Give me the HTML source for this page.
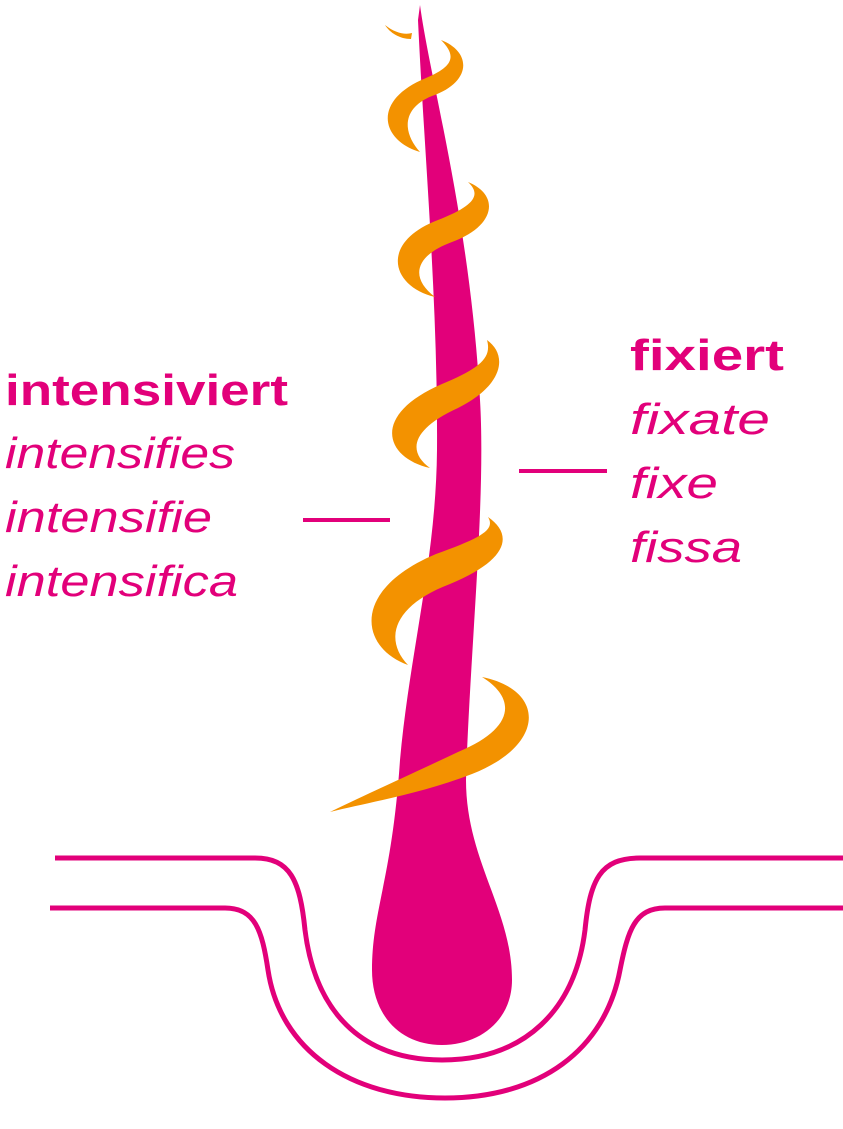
<!DOCTYPE html>
<html><head><meta charset="utf-8"><style>html,body{margin:0;padding:0;background:#fff}svg{display:block}</style></head>
<body>
<svg width="843" height="1129" viewBox="0 0 843 1129" xmlns="http://www.w3.org/2000/svg">
<g fill="none" stroke="#e2007a" stroke-width="5">
<path d="M55,858 L255,858 C290,858 300,880 305,930 C315,1010 360,1060 442,1060 C525,1060 575,1010 585,930 C590,880 600,858 640,858 L843,858"/>
<path d="M50,908 L225,908 C255,908 262,930 268,970 C280,1050 350,1098 445,1098 C540,1098 605,1050 620,970 C628,930 635,908 665,908 L843,908"/>
<path d="M303,520 L390,520 M519,471 L607,471" stroke-width="4"/>
</g>
<path fill="#e2007a" d="M420,5 C430,80 470,220 480,400 C486,500 470,650 466,780 C466,860 512,910 512,980 C512,1020 480,1045 442,1045 C400,1045 372,1015 372,970 C372,910 392,880 400,760 C410,650 436,560 437,450 C438,300 424,150 418,20 Z"/>
<g fill="#f39200">
<path d="M385,25 C395,33 405,35 412,33 L411,39 C400,39 390,33 385,25 Z"/>
<path d="M441,40 C472,52 472,82 432,96 C402,108 402,132 420,152 C380,140 372,100 426,78 C455,66 456,55 441,40 Z"/>
<path d="M468,182 C500,195 496,226 452,242 C414,256 410,278 435,297 C390,286 380,242 438,220 C474,206 482,195 468,182 Z"/>
<path d="M487,340 C508,355 504,385 458,408 C410,430 408,452 430,468 C385,458 370,415 442,384 C480,368 492,358 487,340 Z"/>
<path d="M488,517 C514,535 508,560 450,584 C392,606 384,640 408,665 C360,648 350,590 436,554 C480,538 496,530 488,517 Z"/>
<path d="M482,677 C546,690 546,745 472,774 C420,794 370,802 330,812 C380,788 420,770 458,752 C516,728 516,698 482,677 Z"/>
</g>
<g fill="#e2007a" font-family="Liberation Sans, sans-serif" font-size="44">
<text x="5" y="405" font-weight="bold" textLength="283" lengthAdjust="spacingAndGlyphs">intensiviert</text>
<text x="5" y="468" font-style="italic" textLength="230" lengthAdjust="spacingAndGlyphs">intensifies</text>
<text x="5" y="532" font-style="italic" textLength="207" lengthAdjust="spacingAndGlyphs">intensifie</text>
<text x="5" y="596" font-style="italic" textLength="233" lengthAdjust="spacingAndGlyphs">intensifica</text>
<text x="630" y="370" font-weight="bold" textLength="154" lengthAdjust="spacingAndGlyphs">fixiert</text>
<text x="630" y="434" font-style="italic" textLength="140" lengthAdjust="spacingAndGlyphs">fixate</text>
<text x="630" y="498" font-style="italic" textLength="88" lengthAdjust="spacingAndGlyphs">fixe</text>
<text x="630" y="562" font-style="italic" textLength="112" lengthAdjust="spacingAndGlyphs">fissa</text>
</g>
</svg>
</body></html>
